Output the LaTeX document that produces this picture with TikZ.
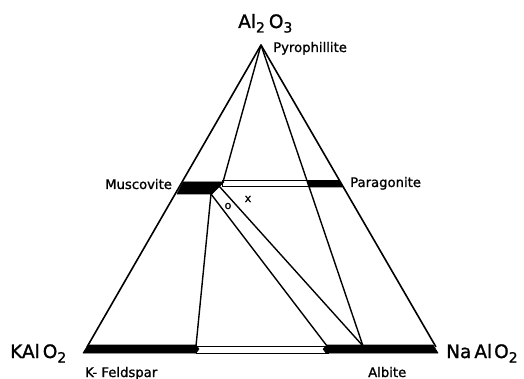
\documentclass[tikz,border=0pt]{standalone}
\usepackage{fontspec}
\setmainfont{DejaVu Sans}
\newfontfamily\labfont[FakeBold=1.2]{DejaVu Sans}
\newcommand{\lowsub}[1]{\raisebox{-4.5pt}{\fontsize{14}{14}\selectfont #1}}
\begin{document}
\begin{tikzpicture}[x=1pt,y=-1pt,
  edge/.style={line width=1.6pt,line join=round},
  tie/.style={line width=1.4pt},
  blackband/.style={fill=black,draw=black,line width=0.6pt,line join=round},
  whiteband/.style={fill=white,draw=black,line width=1pt},
  big/.style={font=\labfont\fontsize{18.5}{18.5}\selectfont,inner sep=0pt},
  small/.style={font=\labfont\fontsize{13.2}{13.2}\selectfont,inner sep=0pt},
  ptmark/.style={font=\labfont\fontsize{11}{11}\selectfont,inner sep=0pt}]
\useasboundingbox[fill=white] (0,0) rectangle (524,379);
% key points
\coordinate (apex) at (261,45);
\coordinate (kcorner) at (87,347);
\coordinate (ncorner) at (436,347);
\coordinate (muR) at (223,182);
\coordinate (muB) at (211,194);
\coordinate (muS) at (219,186);
\coordinate (paL) at (307,181);
\coordinate (kfE) at (196,346);
\coordinate (abL) at (327,346);
\coordinate (abM) at (363,346);
% base bands
\draw[whiteband] (196,346) rectangle (328,353);
\filldraw[blackband] (83,353) -- (88,345) -- (196,345) -- (199,349) -- (196,353) -- cycle;
\filldraw[blackband] (326,353) -- (323,349) -- (327,345) -- (433,345) -- (438,353) -- cycle;
% upper bands
\draw[whiteband] (222,181) rectangle (308,186.5);
\filldraw[blackband] (183,182) -- (224,182) -- (212,194) -- (177,194) -- cycle;
\filldraw[blackband] (307,180.5) -- (339,180.5) -- (342.5,187) -- (309,187) -- cycle;
% outer triangle
\draw[edge] (kcorner) -- (apex) -- (ncorner);
% tie lines
\draw[tie] (apex) -- (muR);
\draw[tie] (apex) -- (abM);
\draw[tie] (muB) -- (kfE);
\draw[tie] (muB) -- (abL);
\draw[tie] (muS) -- (abM);
% markers
\node[ptmark] (om) at (228,206) {o};
\node[ptmark] (xm) at (248,199) {x};
% labels
\node[big,anchor=base west] (al) at (238,28) {Al\lowsub{2}\hspace{4pt}O\lowsub{3}};
\node[small,anchor=base west] (py) at (273,52) {Pyrophillite};
\node[small,anchor=base west] (mu) at (105,189) {Muscovite};
\node[small,anchor=base west] (pa) at (350,187) {Paragonite};
\node[big,anchor=base west] (ka) at (10,358) {KAl\hspace{3pt}O\lowsub{2}};
\node[big,anchor=base west] (na) at (446,358) {Na\hspace{3pt}Al\hspace{2pt}O\lowsub{2}};
\node[small,anchor=base west] (kf) at (85,377) {K- Feldspar};
\node[small,anchor=base west] (ab) at (368,377) {Albite};
\end{tikzpicture}
\end{document}
